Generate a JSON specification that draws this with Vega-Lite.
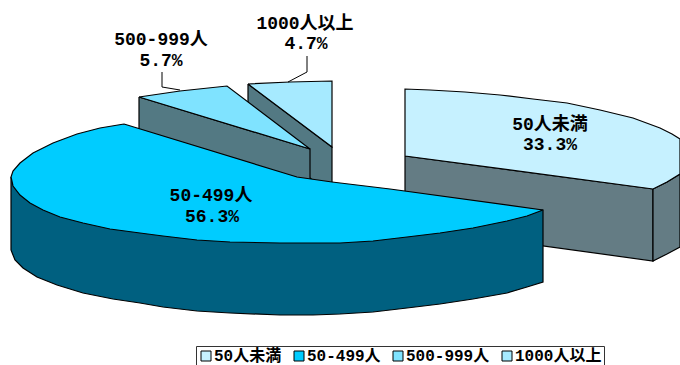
{
  "$schema": "https://vega.github.io/schema/vega-lite/v6.json",
  "width": 680,
  "height": 365,
  "padding": 0,
  "autosize": {"type": "none"},
  "background": "white",
  "view": {"stroke": null},
  "datasets": {
    "faces": [
      {"i":1,"part":"50人未満 内壁","x":405,"y":156},{"i":2,"part":"50人未満 内壁","x":653,"y":189},{"i":3,"part":"50人未満 内壁","x":653,"y":261},{"i":4,"part":"50人未満 内壁","x":405,"y":227},{"i":5,"part":"50人未満 内壁","x":405,"y":156},
      {"i":6,"part":"50人未満 外壁","x":653,"y":189},{"i":7,"part":"50人未満 外壁","x":667,"y":182},{"i":8,"part":"50人未満 外壁","x":680,"y":174},{"i":9,"part":"50人未満 外壁","x":680,"y":247},{"i":10,"part":"50人未満 外壁","x":667,"y":254},{"i":11,"part":"50人未満 外壁","x":653,"y":261},{"i":12,"part":"50人未満 外壁","x":653,"y":189},
      {"i":13,"part":"50人未満","x":405,"y":156},{"i":14,"part":"50人未満","x":405,"y":89},{"i":15,"part":"50人未満","x":430,"y":90},{"i":16,"part":"50人未満","x":465,"y":92},{"i":17,"part":"50人未満","x":500,"y":95},{"i":18,"part":"50人未満","x":533,"y":99},{"i":19,"part":"50人未満","x":567,"y":103},{"i":20,"part":"50人未満","x":600,"y":110},{"i":21,"part":"50人未満","x":633,"y":118},{"i":22,"part":"50人未満","x":660,"y":128},{"i":23,"part":"50人未満","x":672,"y":134},{"i":24,"part":"50人未満","x":680,"y":139},{"i":25,"part":"50人未満","x":680,"y":174},{"i":26,"part":"50人未満","x":667,"y":182},{"i":27,"part":"50人未満","x":653,"y":189},{"i":28,"part":"50人未満","x":405,"y":156},
      {"i":29,"part":"1000人以上 壁","x":248,"y":84},{"i":30,"part":"1000人以上 壁","x":332,"y":147},{"i":31,"part":"1000人以上 壁","x":332,"y":195},{"i":32,"part":"1000人以上 壁","x":248,"y":130},{"i":33,"part":"1000人以上 壁","x":248,"y":84},
      {"i":34,"part":"1000人以上","x":248,"y":84},{"i":35,"part":"1000人以上","x":290,"y":82},{"i":36,"part":"1000人以上","x":332,"y":81},{"i":37,"part":"1000人以上","x":332,"y":147},{"i":38,"part":"1000人以上","x":248,"y":84},
      {"i":39,"part":"500-999人 壁","x":139,"y":97},{"i":40,"part":"500-999人 壁","x":310,"y":149},{"i":41,"part":"500-999人 壁","x":310,"y":200},{"i":42,"part":"500-999人 壁","x":139,"y":148},{"i":43,"part":"500-999人 壁","x":139,"y":97},
      {"i":44,"part":"500-999人","x":139,"y":97},{"i":45,"part":"500-999人","x":180,"y":91},{"i":46,"part":"500-999人","x":227,"y":86},{"i":47,"part":"500-999人","x":310,"y":149},{"i":48,"part":"500-999人","x":139,"y":97},
      {"i":49,"part":"50-499人 壁","x":11,"y":177},{"i":50,"part":"50-499人 壁","x":543,"y":210},{"i":51,"part":"50-499人 壁","x":543,"y":282},{"i":52,"part":"50-499人 壁","x":527,"y":287},{"i":53,"part":"50-499人 壁","x":507,"y":293},{"i":54,"part":"50-499人 壁","x":473,"y":299},{"i":55,"part":"50-499人 壁","x":440,"y":304},{"i":56,"part":"50-499人 壁","x":407,"y":308},{"i":57,"part":"50-499人 壁","x":373,"y":312},{"i":58,"part":"50-499人 壁","x":340,"y":314},{"i":59,"part":"50-499人 壁","x":313,"y":315},{"i":60,"part":"50-499人 壁","x":280,"y":315},{"i":61,"part":"50-499人 壁","x":230,"y":313},{"i":62,"part":"50-499人 壁","x":197,"y":311},{"i":63,"part":"50-499人 壁","x":163,"y":307},{"i":64,"part":"50-499人 壁","x":140,"y":303},{"i":65,"part":"50-499人 壁","x":113,"y":299},{"i":66,"part":"50-499人 壁","x":83,"y":293},{"i":67,"part":"50-499人 壁","x":57,"y":285},{"i":68,"part":"50-499人 壁","x":37,"y":277},{"i":69,"part":"50-499人 壁","x":23,"y":268},{"i":70,"part":"50-499人 壁","x":15,"y":260},{"i":71,"part":"50-499人 壁","x":11,"y":250},{"i":72,"part":"50-499人 壁","x":11,"y":177},
      {"i":73,"part":"50-499人","x":124,"y":124},{"i":74,"part":"50-499人","x":297,"y":177},{"i":75,"part":"50-499人","x":332,"y":182},{"i":76,"part":"50-499人","x":390,"y":189},{"i":77,"part":"50-499人","x":543,"y":210},{"i":78,"part":"50-499人","x":527,"y":216},{"i":79,"part":"50-499人","x":507,"y":221},{"i":80,"part":"50-499人","x":473,"y":228},{"i":81,"part":"50-499人","x":440,"y":233},{"i":82,"part":"50-499人","x":407,"y":237},{"i":83,"part":"50-499人","x":373,"y":241},{"i":84,"part":"50-499人","x":340,"y":243},{"i":85,"part":"50-499人","x":317,"y":243},{"i":86,"part":"50-499人","x":280,"y":243},{"i":87,"part":"50-499人","x":230,"y":242},{"i":88,"part":"50-499人","x":197,"y":240},{"i":89,"part":"50-499人","x":163,"y":236},{"i":90,"part":"50-499人","x":140,"y":233},{"i":91,"part":"50-499人","x":110,"y":229},{"i":92,"part":"50-499人","x":83,"y":223},{"i":93,"part":"50-499人","x":60,"y":217},{"i":94,"part":"50-499人","x":43,"y":210},{"i":95,"part":"50-499人","x":30,"y":203},{"i":96,"part":"50-499人","x":20,"y":195},{"i":97,"part":"50-499人","x":13,"y":186},{"i":98,"part":"50-499人","x":11,"y":177},{"i":99,"part":"50-499人","x":13,"y":171},{"i":100,"part":"50-499人","x":20,"y":163},{"i":101,"part":"50-499人","x":33,"y":153},{"i":102,"part":"50-499人","x":53,"y":143},{"i":103,"part":"50-499人","x":77,"y":134},{"i":104,"part":"50-499人","x":100,"y":128},{"i":105,"part":"50-499人","x":124,"y":124}
    ],
    "leaders": [
      {"i":1,"slice":"500-999人","x":162,"y":72},{"i":2,"slice":"500-999人","x":162,"y":87},{"i":3,"slice":"500-999人","x":180,"y":90},
      {"i":4,"slice":"1000人以上","x":307,"y":56},{"i":5,"slice":"1000人以上","x":307,"y":72},{"i":6,"slice":"1000人以上","x":288,"y":82}
    ],
    "labels": [
      {"text":"50人未満","x":550,"y":125},{"text":"33.3%","x":550,"y":145},
      {"text":"50-499人","x":211,"y":196},{"text":"56.3%","x":212,"y":217},
      {"text":"500-999人","x":161,"y":40},{"text":"5.7%","x":161,"y":61},
      {"text":"1000人以上","x":305,"y":24},{"text":"4.7%","x":306,"y":44}
    ]
  },
  "layer": [
    {
      "data": {"name": "faces"},
      "mark": {"type": "line", "stroke": "#000000", "strokeWidth": 1.2, "strokeJoin": "miter"},
      "encoding": {
        "x": {"field": "x", "type": "quantitative", "axis": null, "scale": {"domain": [0, 680], "nice": false, "zero": false}},
        "y": {"field": "y", "type": "quantitative", "axis": null, "scale": {"domain": [365, 0], "nice": false, "zero": false}},
        "order": {"field": "i"},
        "fill": {
          "field": "part",
          "type": "nominal",
          "scale": {
            "domain": ["50人未満", "50-499人", "500-999人", "1000人以上", "50人未満 内壁", "50人未満 外壁", "1000人以上 壁", "500-999人 壁", "50-499人 壁"],
            "range": ["#C6F1FF", "#00CCFF", "#7FE3FF", "#A6EAFF", "#647C84", "#647C84", "#537983", "#537983", "#006080"]
          },
          "legend": {
            "values": ["50人未満", "50-499人", "500-999人", "1000人以上"],
            "title": null,
            "orient": "none",
            "legendX": 196,
            "legendY": 346,
            "direction": "horizontal",
            "columns": 4,
            "symbolType": "square",
            "symbolSize": 100,
            "symbolStrokeColor": "#000000",
            "symbolStrokeWidth": 1,
            "symbolOpacity": 1,
            "labelFont": "Liberation Mono, Noto Sans CJK JP",
            "labelFontWeight": "bold",
            "labelFontSize": 16,
            "labelColor": "#000000",
            "labelOffset": 0,
            "labelLimit": 200,
            "columnPadding": 9,
            "padding": 2,
            "fillColor": "#FFFFFF",
            "strokeColor": "#333333"
          }
        }
      }
    },
    {
      "data": {"name": "leaders"},
      "mark": {"type": "line", "stroke": "#000000", "strokeWidth": 1},
      "encoding": {
        "x": {"field": "x", "type": "quantitative"},
        "y": {"field": "y", "type": "quantitative"},
        "order": {"field": "i"},
        "detail": {"field": "slice"}
      }
    },
    {
      "data": {"name": "labels"},
      "mark": {"type": "text", "font": "Liberation Mono, Noto Sans CJK JP", "fontWeight": "bold", "fontSize": 18, "align": "center", "baseline": "middle", "color": "#000000"},
      "encoding": {
        "x": {"field": "x", "type": "quantitative"},
        "y": {"field": "y", "type": "quantitative"},
        "text": {"field": "text"}
      }
    }
  ]
}
